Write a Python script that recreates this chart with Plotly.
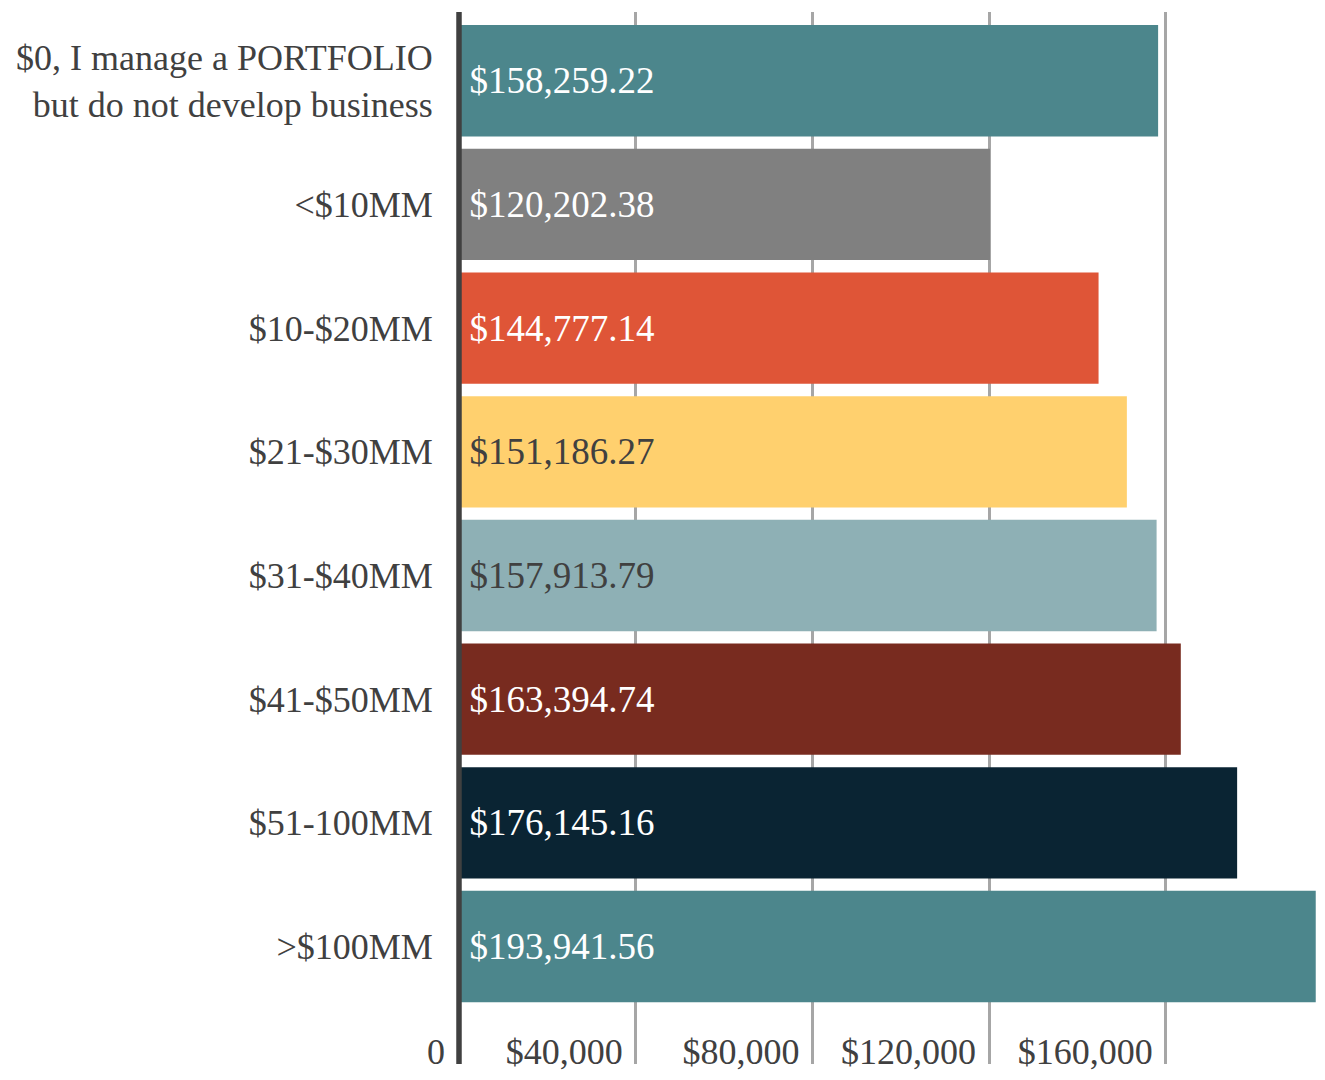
import plotly.graph_objects as go

categories = [
    "$0, I manage a PORTFOLIO<br>but do not develop business",
    "<$10MM",
    "$10-$20MM",
    "$21-$30MM",
    "$31-$40MM",
    "$41-$50MM",
    "$51-100MM",
    ">$100MM",
]
values = [158259.22, 120202.38, 144777.14, 151186.27, 157913.79, 163394.74, 176145.16, 193941.56]
bar_colors = ["#4C868C", "#808080", "#DF5537", "#FFD06E", "#8EB0B5", "#782B1F", "#0A2433", "#4C868C"]
text_colors = ["#FFFFFF", "#FFFFFF", "#FFFFFF", "#404040", "#404040", "#FFFFFF", "#FFFFFF", "#FFFFFF"]
tick_vals = [40000, 80000, 120000, 160000]
tick_text = ["$40,000", "$80,000", "$120,000", "$160,000"]
zero_label = "0"

FONT = "Liberation Serif"
labels = ["\u2009${:,.2f}".format(v) for v in values]

fig = go.Figure(
    go.Bar(
        x=values,
        y=categories,
        orientation="h",
        marker=dict(color=bar_colors, line=dict(width=0)),
        text=labels,
        textposition="inside",
        insidetextanchor="start",
        textfont=dict(family=FONT, size=37, color=text_colors),
        hoverinfo="skip",
    )
)

# page body has an 8px margin: the figure is sized to fit inside the window
fig.update_layout(
    width=1309,
    height=1064,
    margin=dict(l=451, r=1, t=4, b=0),
    paper_bgcolor="white",
    plot_bgcolor="white",
    bargap=0.1,
    showlegend=False,
    font=dict(family=FONT, size=36, color="#404040"),
)

fig.update_xaxes(
    range=[0, 194000],
    tickvals=tick_vals,
    ticktext=tick_text,
    ticklabelposition="inside left",
    ticklabelshift=-13,
    ticklabelstandoff=-13,
    showgrid=True,
    gridcolor="#A6A6A6",
    gridwidth=2.5,
    zeroline=False,
    showline=False,
    ticks="",
    tickfont=dict(family=FONT, size=36, color="#404040"),
)

fig.update_yaxes(
    type="category",
    categoryorder="array",
    categoryarray=categories,
    range=[7.95, -0.556],
    showgrid=False,
    zeroline=False,
    showline=False,
    ticks="outside",
    ticklen=18,
    tickcolor="rgba(0,0,0,0)",
    tickfont=dict(family=FONT, size=36, color="#404040"),
)

fig.add_annotation(
    x=0,
    xref="x",
    y=0,
    yref="paper",
    text=zero_label,
    showarrow=False,
    xanchor="right",
    yanchor="middle",
    xshift=-12,
    yshift=12,
    font=dict(family=FONT, size=36, color="#404040"),
)

fig.add_shape(
    type="line",
    xref="paper",
    yref="paper",
    x0=0,
    x1=0,
    y0=0,
    y1=1,
    line=dict(color="#404040", width=5.5),
    layer="above",
)

fig.write_html("out.html")
